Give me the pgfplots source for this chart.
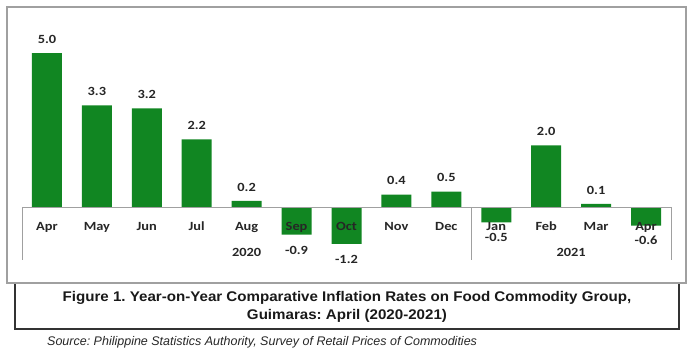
\documentclass[border=0pt]{standalone}
\usepackage{pgfplots}
\pgfplotsset{compat=1.18}
\usepackage{fontspec}
\setmainfont{Carlito}[FakeStretch=1.15]
\newfontfamily\capfont[FakeStretch=1.08]{Liberation Sans}
\newfontfamily\srcfont{Liberation Sans}
\definecolor{bargreen}{RGB}{17,134,34}
\definecolor{axgray}{RGB}{160,160,160}
\frenchspacing
\begin{document}
\begin{tikzpicture}
\path[use as bounding box] (0,0) rectangle (696bp,-358bp);
% caption box
\draw[line width=1.5bp, black!80] (15bp,-283bp) rectangle (679bp,-329bp);
% chart frame
\draw[line width=1.2bp, axgray] (7bp,-7bp) rectangle (686bp,-283bp);
\node[font=\capfont\bfseries\fontsize{14bp}{18bp}\selectfont, align=center, anchor=center, text=black!90] at (347bp,-307bp)
  {Figure 1. Year-on-Year Comparative Inflation Rates on Food Commodity Group,\\Guimaras: April (2020-2021)};
\node[font=\srcfont\itshape\fontsize{12.5bp}{15bp}\selectfont, anchor=base west, inner sep=0pt, text=black!85] at (47bp,-345bp)
  {Source: Philippine Statistics Authority, Survey of Retail Prices of Commodities};
\begin{axis}[
  at={(22bp,-260bp)}, anchor=south west,
  scale only axis, width=649bp, height=222.4bp,
  xmin=-0.5, xmax=12.5, ymin=-1.72, ymax=5.5,
  axis line style={draw=none},
  axis on top,
  ytick=\empty,
  xtick={0,...,12},
  xticklabels={Apr,May,Jun,Jul,Aug,Sep,Oct,Nov,Dec,Jan,Feb,Mar,Apr},
  major tick length=0pt,
  xticklabel style={anchor=base, yshift=30bp, font=\bfseries\fontsize{12.5bp}{14bp}\selectfont, text=black!85, inner sep=0pt},
  ybar, bar width=30bp, bar shift=0pt,
  clip=false,
  nodes near coords,
  /pgf/number format/fixed, /pgf/number format/precision=1, /pgf/number format/fixed zerofill,
  /pgf/number format/assume math mode=true,
  nodes near coords style={font=\bfseries\fontsize{12.5bp}{14bp}\selectfont, text=black!85, inner sep=0pt},
]
\addplot[fill=bargreen, draw=none,
  every node near coord/.append style={anchor=base, yshift=9.7bp}]
  coordinates {(0,5.0) (1,3.3) (2,3.2) (3,2.2) (4,0.2) (7,0.4) (8,0.5) (10,2.0) (11,0.1)};
\addplot[fill=bargreen, draw=none,
  every node near coord/.append style={anchor=base, yshift=-19.3bp}]
  coordinates {(5,-0.9) (6,-1.2) (9,-0.5) (12,-0.6)};
\draw[axgray, line width=1bp] (axis cs:-0.5,0) -- (axis cs:12.5,0);
\draw[axgray, line width=1bp] (axis cs:-0.5,0) -- (axis cs:-0.5,-1.72);
\draw[axgray, line width=1bp] (axis cs:8.5,0) -- (axis cs:8.5,-1.72);
\draw[axgray, line width=1bp] (axis cs:12.5,0) -- (axis cs:12.5,-1.72);
\node[anchor=base, inner sep=0pt, font=\bfseries\fontsize{12.5bp}{14bp}\selectfont, text=black!85] at (axis cs:4,-1.72) [yshift=4bp] {2020};
\node[anchor=base, inner sep=0pt, font=\bfseries\fontsize{12.5bp}{14bp}\selectfont, text=black!85] at (axis cs:10.5,-1.72) [yshift=4bp] {2021};
\end{axis}
\end{tikzpicture}
\end{document}
